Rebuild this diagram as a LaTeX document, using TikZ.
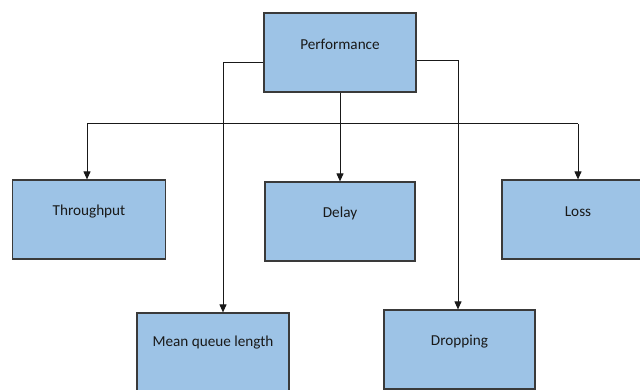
\documentclass[tikz,border=0pt]{standalone}
\usepackage{fontspec}
\setmainfont{Carlito}
\usetikzlibrary{arrows.meta}
\definecolor{boxblue}{HTML}{9DC3E6}
\definecolor{boxline}{HTML}{3A3A3A}
\tikzset{
  box/.style={draw=boxline, fill=boxblue, line width=1.2pt, inner sep=0pt, minimum width=152pt, minimum height=79pt},
  boxtext/.style={font=\fontsize{15.2}{17}\selectfont, inner sep=0pt, text=black!90},
  conn/.style={draw=black!90, line width=1pt},
  arr/.style={conn, -{Triangle[width=7pt,length=8pt]}}
}
\begin{document}
\begin{tikzpicture}[x=1pt,y=-1pt]
\useasboundingbox (0,0) rectangle (640,390);
\begin{scope}
\clip (0,0) rectangle (640,390);
\node[box] (perf) at (340,52.5) {};
\node[box, minimum width=153pt] (tp) at (89,219.5) {};
\node[box, minimum width=150pt] (delay) at (340,221.5) {};
\node[box] (loss) at (578,219.5) {};
\node[box] (mql) at (213,352.5) {};
\node[box, minimum width=151pt] (drop) at (459.5,349.5) {};
\end{scope}
\node[boxtext] (tperf) at (340,44) {Performance};
\node[boxtext] (ttp) at (89,212) {Throughput};
\node[boxtext] (tdelay) at (340,213) {Delay};
\node[boxtext] (tloss) at (578,212) {Loss};
\node[boxtext] (tmql) at (213,343) {Mean queue length};
\node[boxtext] (tdrop) at (459.5,342) {Dropping};
\coordinate (busL) at (87,124);
\coordinate (busR) at (578,124);
\draw[conn] (busL) -- (busR);
\draw[arr] (perf.south) -- (delay.north);
\draw[arr] (busL) -- (busL |- tp.north);
\draw[arr] (busR) -- (loss.north);
\draw[arr] ([yshift=-10.5pt]perf.west) -| ([xshift=10pt]mql.north);
\draw[arr] ([yshift=-8.5pt]perf.east) -| ([xshift=-1.5pt]drop.north);
\end{tikzpicture}
\end{document}
